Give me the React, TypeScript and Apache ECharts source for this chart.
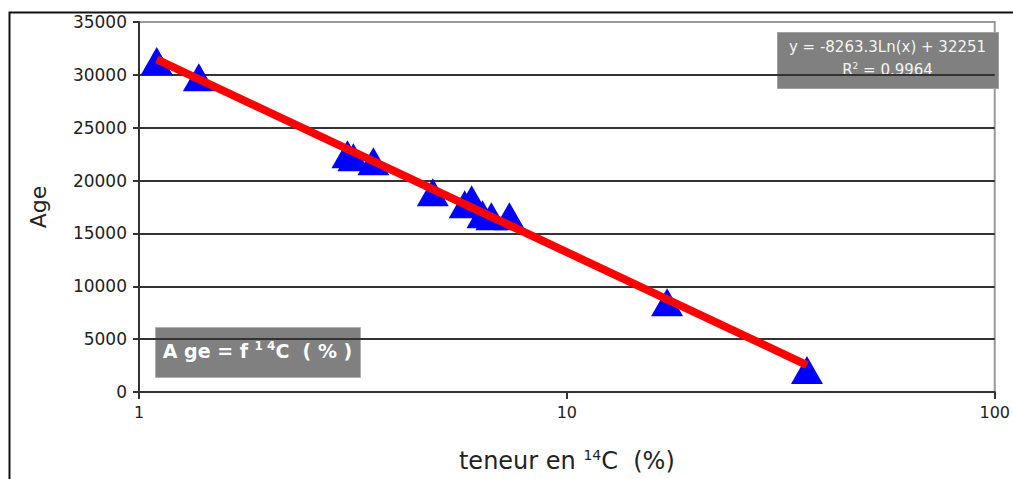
import React, { useEffect, useRef } from "react";
import * as echarts from "echarts";

// 14C content (%) and age (years)
const teneur = [1.1, 1.38, 3.07, 3.17, 3.53, 4.86, 5.77, 5.99, 6.35, 6.66, 7.34, 17.15, 36.4];
const ages = [31300, 29770, 22490, 22210, 21830, 18900, 17770, 18240, 16820, 16630, 16630, 8500, 2080];

// Logarithmic trend line shown on the chart: y = a·ln(x) + b
const trendA = -8263.3;
const trendB = 32251;
const trendR2 = 0.9964;

const yTicks = [0, 5000, 10000, 15000, 20000, 25000, 30000, 35000];
const xTicks = [1, 10, 100];

export default function App() {
  const ref = useRef<HTMLDivElement>(null);
  useEffect(() => {
    if (!ref.current) return;
    const chart = echarts.init(ref.current, undefined, { renderer: "svg" });
    const xMin = Math.min(...teneur);
    const xMax = Math.max(...teneur);
    const trend = [xMin, xMax].map((x) => [x, trendA * Math.log(x) + trendB]);
    const scatter = teneur.map((x, i) => [x, ages[i]]);
    const font = "'DejaVu Sans', Arial, sans-serif";
    chart.setOption({
      animation: false,
      backgroundColor: "#ffffff",
      grid: {
        left: 139,
        right: 8,
        top: 22,
        bottom: 87,
        show: true,
        borderColor: "#999999",
        borderWidth: 2,
        backgroundColor: "#ffffff",
      },
      xAxis: {
        type: "log",
        logBase: 10,
        min: xTicks[0],
        max: xTicks[xTicks.length - 1],
        name: "{a|teneur en }{s|14}{a|C  (%)}",
        nameLocation: "middle",
        nameGap: 56,
        nameTextStyle: {
          rich: {
            a: { fontFamily: font, fontSize: 24, color: "#222" },
            s: { fontFamily: font, fontSize: 14, color: "#222", verticalAlign: "top", padding: [0, 0, 12, 0] },
          },
        },
        axisLine: { lineStyle: { color: "#333", width: 2 } },
        axisTick: { show: true, inside: false, length: 7, lineStyle: { color: "#333", width: 2 } },
        minorTick: { show: false },
        axisLabel: { fontFamily: font, fontSize: 16, color: "#222", margin: 12 },
        splitLine: { show: false },
      },
      yAxis: {
        type: "value",
        min: yTicks[0],
        max: yTicks[yTicks.length - 1],
        interval: 5000,
        name: "Age",
        nameLocation: "middle",
        nameGap: 90,
        nameRotate: 90,
        nameTextStyle: { fontFamily: font, fontSize: 22, color: "#222" },
        axisLine: { show: true, lineStyle: { color: "#333", width: 2 } },
        axisTick: { show: true, length: 6, lineStyle: { color: "#333", width: 2 } },
        axisLabel: {
          fontFamily: font,
          fontSize: 17,
          color: "#222",
          margin: 12,
          formatter: (v: number) => String(v),
        },
        splitLine: {
          show: true,
          lineStyle: {
            color: ["#333", "#333", "#333", "#333", "#333", "#333", "#333", "#999"],
            width: 2,
          },
        },
      },
      series: [
        {
          type: "scatter",
          data: scatter,
          symbol: "triangle",
          symbolSize: [32, 28],
          itemStyle: { color: "#0000ff", opacity: 1 },
          z: 2,
        },
        {
          type: "line",
          data: trend,
          symbol: "none",
          lineStyle: { color: "#ff0000", width: 8 },
          z: 3,
        },
      ],
      graphic: [
        {
          type: "rect",
          shape: { x: 0, y: 0, width: 1200, height: 600 },
          left: 7,
          top: 10,
          style: { fill: "none", stroke: "#111", lineWidth: 2 },
          silent: true,
          z: -10,
        },
        {
          type: "group",
          left: 777,
          top: 32,
          z: 10,
          children: [
            {
              type: "rect",
              shape: { x: 0, y: 0, width: 221, height: 56 },
              style: { fill: "#808080", stroke: "#a0a0a0", lineWidth: 1 },
            },
            {
              type: "text",
              x: 110,
              y: 7,
              style: {
                text: `y = ${trendA}Ln(x) + ${trendB}`,
                fill: "#f4f4f4",
                font: `15px ${font}`,
                align: "center",
              },
            },
            {
              type: "text",
              x: 110,
              y: 29,
              style: {
                text: `{a|R}{s|2}{a| = ${trendR2}}`,
                align: "center",
                rich: {
                  a: { fill: "#f4f4f4", fontSize: 15, fontFamily: font },
                  s: { fill: "#f4f4f4", fontSize: 9, fontFamily: font, verticalAlign: "top", padding: [0, 0, 8, 0] },
                },
              },
            },
          ],
        },
        {
          type: "group",
          left: 155,
          top: 327,
          z: 10,
          children: [
            {
              type: "rect",
              shape: { x: 0, y: 0, width: 205, height: 50 },
              style: { fill: "#808080", stroke: "#b0b0b0", lineWidth: 1 },
            },
            {
              type: "text",
              x: 102,
              y: 12,
              style: {
                text: "{a|A ge = f }{s|1 4}{a|C  ( % )}",
                align: "center",
                rich: {
                  a: { fill: "#ffffff", fontSize: 19, fontWeight: "bold", fontFamily: font },
                  s: { fill: "#ffffff", fontSize: 12, fontWeight: "bold", fontFamily: font, verticalAlign: "top", padding: [0, 0, 10, 0] },
                },
              },
            },
          ],
        },
      ],
    });
    return () => chart.dispose();
  }, []);
  return (
    <div
      ref={ref}
      style={{ position: "absolute", left: 0, top: 0, width: 1013, height: 479 }}
    />
  );
}
